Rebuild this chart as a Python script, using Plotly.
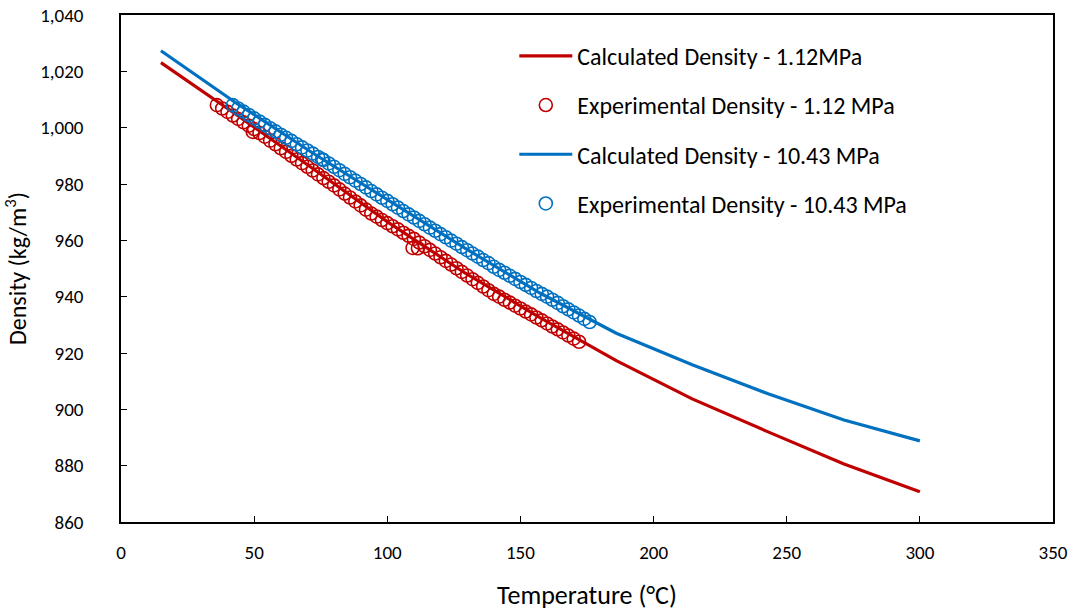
import plotly.graph_objects as go

# Calculated density curves (temperature in °C, density in kg/m3)
calc_T = [15, 43.5, 72, 100.5, 129, 157.5, 186, 214.5, 243, 271.5, 300]
calc_low = [1023.1, 1004.5, 985.5, 966.3, 948.5, 932.5, 917.3, 903.7, 892.0, 880.6, 870.7]
calc_high = [1027.3, 1008.6, 991.0, 974.0, 957.3, 941.2, 927.0, 915.8, 905.5, 896.2, 888.8]

# Experimental density - 1.12 MPa
exp_low_T = [36, 38, 40, 42, 44, 46, 48, 49.5, 50, 52, 54, 56, 58, 60, 62, 64, 66, 68, 70,
             72, 74, 76, 78, 80, 82, 84, 86, 88, 90, 92, 94, 96, 98, 100, 102, 104, 106,
             108, 109.5, 110, 111.5, 112, 114, 116, 118, 120, 122, 124, 126, 128, 130, 132,
             134, 136, 138, 140, 142, 144, 146, 148, 150, 152, 154, 156, 158, 160, 162,
             164, 166, 168, 170, 172]
exp_low = [1008.0, 1006.8, 1005.6, 1004.3, 1003.1, 1001.9, 1000.7, 998.5, 999.5, 998.1,
           996.8, 995.4, 994.1, 992.7, 991.4, 990.0, 988.7, 987.4, 986.1, 984.8, 983.4,
           982.1, 980.8, 979.5, 978.1, 976.6, 975.2, 973.8, 972.4, 970.9, 969.5, 968.4,
           967.2, 966.1, 965.0, 963.9, 962.7, 961.6, 957.3, 960.5, 957.2, 959.2, 957.9,
           956.6, 955.3, 954.0, 952.7, 951.4, 950.1, 948.8, 947.5, 946.2, 944.9, 943.6,
           942.3, 941.0, 940.0, 938.9, 937.9, 936.8, 935.8, 934.7, 933.7, 932.6, 931.6,
           930.5, 929.4, 928.4, 927.3, 926.2, 925.1, 924.0]

# Experimental density - 10.43 MPa
exp_high_T = [42, 44, 46, 48, 50, 52, 54, 56, 58, 60, 62, 64, 66, 68, 70, 72, 74, 75.5, 76,
              78, 80, 82, 84, 86, 88, 90, 92, 94, 96, 98, 100, 102, 104, 106, 108, 110, 112,
              114, 116, 118, 120, 122, 124, 126, 128, 130, 132, 134, 136, 138, 140, 142,
              144, 146, 148, 150, 152, 154, 156, 158, 160, 162, 164, 166, 168, 170, 172,
              174, 176]
exp_high = [1008.0, 1006.8, 1005.7, 1004.5, 1003.3, 1002.2, 1001.0, 999.8, 998.7, 997.5,
            996.4, 995.3, 994.1, 993.0, 991.9, 990.8, 989.6, 988.8, 988.5, 987.3, 986.1,
            984.9, 983.6, 982.4, 981.2, 980.0, 978.8, 977.5, 976.3, 975.1, 974.0, 972.8,
            971.6, 970.4, 969.2, 968.1, 966.9, 965.7, 964.5, 963.4, 962.2, 961.1, 959.9,
            958.8, 957.6, 956.5, 955.3, 954.2, 953.0, 951.9, 950.6, 949.5, 948.5, 947.4,
            946.3, 945.2, 944.2, 943.1, 942.0, 941.0, 940.0, 938.9, 937.8, 936.6, 935.5,
            934.4, 933.3, 932.1, 931.0]

RED = "#C00000"
BLUE = "#0070C0"
FONT = "Calibri, Carlito, Lato, sans-serif"

fig = go.Figure()
fig.add_trace(go.Scatter(x=calc_T, y=calc_low, mode="lines", name="Calculated Density - 1.12MPa",
                         line=dict(color=RED, width=3.2), legendgroup="a"))
fig.add_trace(go.Scatter(x=exp_low_T, y=exp_low, mode="markers", name="Experimental Density - 1.12 MPa",
                         marker=dict(symbol="circle-open", size=13, color=RED, line=dict(width=1.6)),
                         legendgroup="b"))
fig.add_trace(go.Scatter(x=calc_T, y=calc_high, mode="lines", name="Calculated Density - 10.43 MPa",
                         line=dict(color=BLUE, width=3.2), legendgroup="c"))
fig.add_trace(go.Scatter(x=exp_high_T, y=exp_high, mode="markers", name="Experimental Density - 10.43 MPa",
                         marker=dict(symbol="circle-open", size=13, color=BLUE, line=dict(width=1.6)),
                         legendgroup="d"))

axis_common = dict(showgrid=False, zeroline=False, showline=True, linecolor="black", linewidth=1.5,
                   mirror=True, ticks="inside", ticklen=6, tickwidth=1, tickcolor="black",
                   automargin=False, tickfont=dict(family=FONT, size=19, color="black"))

fig.update_xaxes(range=[0, 350], dtick=50, tick0=0,
                 title=dict(text="Temperature (°C)", font=dict(family=FONT, size=26, color="black"), standoff=26),
                 ticklabelstandoff=12, **axis_common)
fig.update_yaxes(range=[860, 1040], dtick=20, tick0=860, tickformat=",",
                 title=dict(text="Density (kg/m<sup>3</sup>)", font=dict(family=FONT, size=24, color="black"), standoff=12),
                 ticklabelstandoff=32, **axis_common)

fig.update_layout(
    width=1074, height=611,
    margin=dict(l=121, r=21, t=15, b=89),
    plot_bgcolor="white", paper_bgcolor="white",
    font=dict(family=FONT, color="black"),
    legend=dict(x=0.422, y=0.963, xanchor="left", yanchor="top", bgcolor="rgba(0,0,0,0)",
                font=dict(family=FONT, size=24, color="black"), tracegroupgap=15, itemwidth=53),
)

fig.write_html("out.html")
